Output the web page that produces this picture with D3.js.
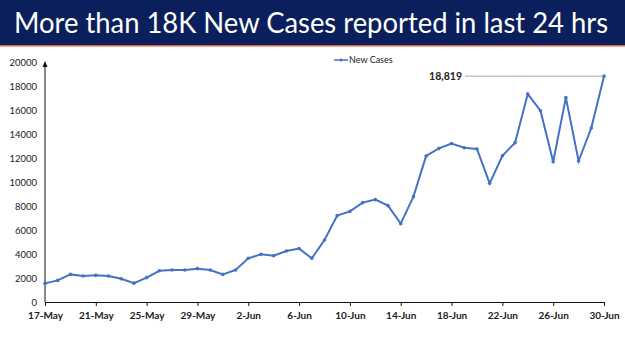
<!DOCTYPE html>
<html><head><meta charset="utf-8">
<script src="https://cdn.jsdelivr.net/npm/d3@7"></script>
<style>body{margin:0;background:#fff}svg{display:block}</style>
</head><body>
<svg id="c" width="625" height="351"></svg>
<script>
const dates = ["17-May","18-May","19-May","20-May","21-May","22-May","23-May","24-May","25-May","26-May","27-May","28-May","29-May","30-May","31-May",
"1-Jun","2-Jun","3-Jun","4-Jun","5-Jun","6-Jun","7-Jun","8-Jun","9-Jun","10-Jun","11-Jun","12-Jun","13-Jun","14-Jun","15-Jun",
"16-Jun","17-Jun","18-Jun","19-Jun","20-Jun","21-Jun","22-Jun","23-Jun","24-Jun","25-Jun","26-Jun","27-Jun","28-Jun","29-Jun","30-Jun"];
const newCases = [1550,1800,2300,2170,2220,2160,1930,1570,2030,2600,2670,2670,2780,2670,2300,
2670,3640,3970,3860,4250,4450,3640,5170,7200,7550,8280,8530,8030,6530,8780,
12170,12800,13200,12850,12750,9890,12190,13280,17330,15940,11690,17030,11750,14500,18819];
const xTickLabels = ["17-May","21-May","25-May","29-May","2-Jun","6-Jun","10-Jun","14-Jun","18-Jun","22-Jun","26-Jun","30-Jun"];
const yTicks = [0,2000,4000,6000,8000,10000,12000,14000,16000,18000,20000];
const titleText = "More than 18K New Cases reported in last 24 hrs";
const seriesName = "New Cases";
const highlightLabel = "18,819";

const svg = d3.select("#c");
// banner
svg.append("rect").attr("x",0).attr("y",0).attr("width",625).attr("height",45).attr("fill","#0b1f5c");
svg.append("rect").attr("x",0).attr("y",45).attr("width",625).attr("height",1.5).attr("fill","#e0643c");
svg.append("text").attr("x",14).attr("y",33)
  .attr("fill","#fff").attr("font-family","Lato, sans-serif").attr("font-size",28)
  .attr("textLength",594).attr("lengthAdjust","spacingAndGlyphs")
  .text(titleText);

const x = d3.scalePoint().domain(dates).range([45,604]);
const y = d3.scaleLinear().domain([0,20000]).range([302,62]);

// y axis labels
const ya = svg.append("g").attr("transform","translate(45,0)")
  .call(d3.axisLeft(y).tickValues(yTicks).tickSize(0).tickPadding(8).tickFormat(d3.format("d")));
ya.select(".domain").remove();
ya.selectAll("text").attr("font-family","Lato, sans-serif").attr("font-size",9.5).attr("fill","#222");
svg.append("line").attr("x1",45).attr("x2",45).attr("y1",302).attr("y2",66).attr("stroke","#111").attr("stroke-width",1);
svg.append("path").attr("d","M45,61 L42.5,67 L47.5,67 Z").attr("fill","#111");

// x axis
const xa = svg.append("g").attr("transform","translate(0,302)")
  .call(d3.axisBottom(x).tickValues(xTickLabels).tickSize(4).tickSizeOuter(0).tickPadding(6));
xa.select(".domain").attr("stroke","#111");
xa.selectAll(".tick line").attr("stroke","#111");
xa.selectAll("text").attr("font-family","Lato, sans-serif").attr("font-size",10).attr("font-weight","bold").attr("fill","#222");

// line
const col = "#4472c4";
svg.append("path").datum(newCases)
  .attr("d", d3.line().x((d,i)=>x(dates[i])).y(d=>y(d)))
  .attr("fill","none").attr("stroke",col).attr("stroke-width",2);
svg.selectAll("circle.pt").data(newCases).join("circle").attr("class","pt")
  .attr("cx",(d,i)=>x(dates[i])).attr("cy",d=>y(d)).attr("r",1.8).attr("fill",col);

// highlight label
const lastI = newCases.length-1;
svg.append("line").attr("x1",465).attr("x2",x(dates[lastI])).attr("y1",y(newCases[lastI])).attr("y2",y(newCases[lastI]))
  .attr("stroke","#999").attr("stroke-width",0.8);
svg.append("text").attr("x",462).attr("y",y(newCases[lastI])+4).attr("text-anchor","end")
  .attr("font-family","Lato, sans-serif").attr("font-size",10.5).attr("font-weight","bold").attr("fill","#222")
  .text(highlightLabel);

// legend
svg.append("line").attr("x1",334).attr("x2",348).attr("y1",60).attr("y2",60).attr("stroke",col).attr("stroke-width",1.5);
svg.append("circle").attr("cx",341).attr("cy",60).attr("r",1.5).attr("fill",col);
svg.append("text").attr("x",349).attr("y",63).attr("font-family","Lato, sans-serif").attr("font-size",9).attr("fill","#222").text(seriesName);
</script>
</body></html>
